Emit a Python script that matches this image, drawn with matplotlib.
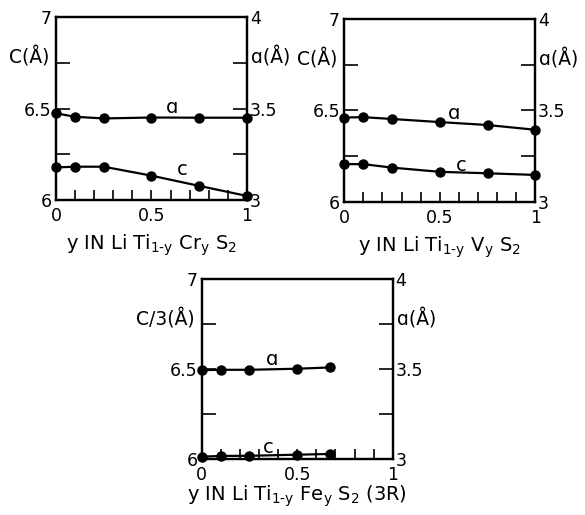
import numpy as np
import matplotlib.pyplot as plt

plt.rcParams["font.family"] = "DejaVu Sans"
plt.rcParams["mathtext.default"] = "regular"

# ----------------------------
# data
# ----------------------------
y_cr = [0, 0.1, 0.25, 0.5, 0.75, 1.0]
a_cr = [3.474, 3.455, 3.446, 3.451, 3.450, 3.450]
c_cr = [6.178, 6.182, 6.182, 6.133, 6.077, 6.022]

y_v = [0, 0.1, 0.25, 0.5, 0.75, 1.0]
a_v = [3.460, 3.462, 3.452, 3.435, 3.419, 3.393]
c_v = [6.205, 6.205, 6.186, 6.163, 6.155, 6.146]

y_fe = [0, 0.1, 0.25, 0.5, 0.67]
a_fe = [3.495, 3.497, 3.497, 3.503, 3.510]
c_fe = [6.015, 6.019, 6.020, 6.026, 6.030]

xlabels = [
    "y IN Li Ti$_{1‐y}$ Cr$_y$ S$_2$",
    "y IN Li Ti$_{1‐y}$ V$_y$ S$_2$",
    "y IN Li Ti$_{1‐y}$ Fe$_y$ S$_2$ (3R)",
]
left_labels = ["C(Å)", "C(Å)", "C/3(Å)"]
right_label = "ɑ(Å)"

# axes rectangles in figure fractions
rects = [
    [0.0957, 0.6117, 0.3265, 0.355],
    [0.5885, 0.6085, 0.3265, 0.355],
    [0.3448, 0.108, 0.3265, 0.35],
]
xlabel_y = [-0.25, -0.25, -0.205]
# where the curve labels sit (x, y in c units)
a_pos = [(0.61, 6.505), (0.576, 6.484), (0.366, 6.556)]
c_pos = [(0.66, 6.164), (0.615, 6.20), (0.35, 6.067)]

series = [(y_cr, a_cr, c_cr), (y_v, a_v, c_v), (y_fe, a_fe, c_fe)]

fig = plt.figure(figsize=(5.85, 5.15), dpi=100)

for i, (xs, av, cv) in enumerate(series):
    ax = fig.add_axes(rects[i])
    ax2 = ax.twinx()

    ax.set_xlim(0, 1)
    ax.set_ylim(6, 7)
    ax2.set_ylim(3, 4)

    ax.plot(xs, cv, color="black", lw=1.6, marker="o", ms=6.5, clip_on=False, zorder=5)
    ax2.plot(xs, av, color="black", lw=1.6, marker="o", ms=6.5, clip_on=False, zorder=5)

    ax.set_xticks(np.round(np.arange(0, 1.01, 0.1), 2))
    ax.set_xticklabels(["0", "", "", "", "", "0.5", "", "", "", "", "1"])
    ax.set_yticks([6, 6.25, 6.5, 6.75, 7])
    ax.set_yticklabels(["6", "", "6.5", "", "7"])
    ax2.set_yticks([3, 3.25, 3.5, 3.75, 4])
    ax2.set_yticklabels(["3", "", "3.5", "", "4"])

    ax.tick_params(axis="x", direction="in", length=7, width=1.2, labelsize=12.5, pad=5)
    ax.tick_params(axis="y", direction="in", length=10, width=1.2, labelsize=12.5, pad=3)
    ax2.tick_params(axis="y", direction="in", length=10, width=1.2, labelsize=12.5, pad=2)

    for a in (ax, ax2):
        for sp in a.spines.values():
            sp.set_linewidth(1.6)

    ax.text(0.5, xlabel_y[i], xlabels[i], transform=ax.transAxes, ha="center",
            va="center", fontsize=14)
    ax.text(-0.035, 0.78, left_labels[i], transform=ax.transAxes, ha="right",
            va="center", fontsize=13.5)
    ax.text(1.02, 0.78, right_label, transform=ax.transAxes, ha="left",
            va="center", fontsize=13.5)

    ax.text(a_pos[i][0], a_pos[i][1], "ɑ", ha="center", va="center", fontsize=14)
    ax.text(c_pos[i][0], c_pos[i][1], "c", ha="center", va="center", fontsize=14)

plt.savefig("out.png", dpi=100)
